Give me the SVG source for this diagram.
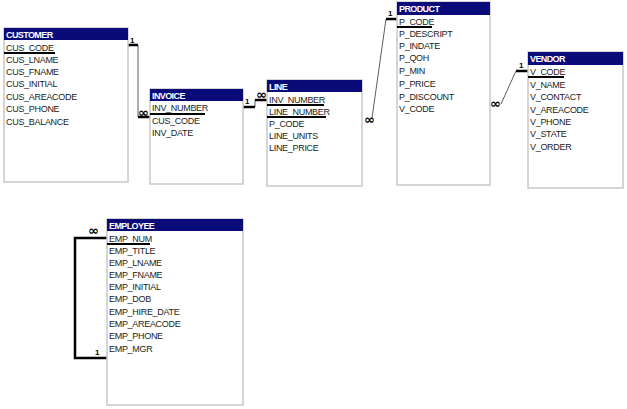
<svg xmlns="http://www.w3.org/2000/svg" width="627" height="409" viewBox="0 0 627 409">
<style>
.box{fill:#fff;stroke:#c8c8c8;stroke-width:1.5}
.hd{fill:#0a0a78}
.ht{font-family:"Liberation Sans Narrow","Liberation Sans",sans-serif;font-size:9px;font-weight:bold;fill:#fff;letter-spacing:-0.6px}
.f{font-family:"Liberation Sans Narrow","Liberation Sans",sans-serif;font-size:9px;fill:#222;letter-spacing:-0.3px}
.k{stroke:#000;stroke-width:2}
.c{fill:none;stroke:#333;stroke-width:0.8}
.t{fill:none;stroke:#000;stroke-width:2.5}
.lb{font-family:"Liberation Sans",sans-serif;font-size:8px;font-weight:bold;fill:#000}
.inf{font-family:"DejaVu Sans",sans-serif;font-size:13px;font-weight:bold;fill:#000}
</style>
<g id="connectors">
<path class="c" d="M138,45 V117"/><path class="t" d="M128,45 H138"/><path class="t" d="M138,117 H150"/>
<text class="lb" x="130" y="43">1</text><text class="inf" x="138" y="117">∞</text>
<path class="c" d="M255,107 V100"/><path class="t" d="M243,107 H255"/><path class="t" d="M255,100 H267"/>
<text class="lb" x="245" y="104">1</text><text class="inf" x="256" y="99">∞</text>
<path class="c" d="M372,118 L386,19"/><path class="t" d="M386,19 H397"/>
<text class="lb" x="388" y="16">1</text><text class="inf" x="364" y="124">∞</text>
<path class="c" d="M501,104 L516,71"/><path class="t" d="M516,71 H528"/>
<text class="lb" x="519" y="68">1</text><text class="inf" x="490" y="108">∞</text>
<path class="t" d="M107,238 H75 V358 H107"/>
<text class="inf" x="88" y="235">∞</text><text class="lb" x="95" y="355">1</text>
</g>
<g id="customer">
<rect class="box" x="4" y="28" width="124" height="154"/><rect class="hd" x="4" y="28" width="124" height="12"/>
<text class="ht" x="6" y="38">CUSTOMER</text>
<text class="f" x="6" y="51">CUS_CODE</text><line class="k" x1="4" y1="53" x2="55" y2="53"/>
<text class="f" x="6" y="63">CUS_LNAME</text><text class="f" x="6" y="75">CUS_FNAME</text>
<text class="f" x="6" y="87">CUS_INITIAL</text><text class="f" x="6" y="100">CUS_AREACODE</text>
<text class="f" x="6" y="112">CUS_PHONE</text><text class="f" x="6" y="125">CUS_BALANCE</text>
</g>
<g id="invoice">
<rect class="box" x="150" y="89" width="93" height="95"/><rect class="hd" x="150" y="89" width="93" height="12"/>
<text class="ht" x="152" y="99">INVOICE</text>
<text class="f" x="152" y="111">INV_NUMBER</text><line class="k" x1="150" y1="114" x2="205" y2="114"/>
<text class="f" x="152" y="124">CUS_CODE</text><text class="f" x="152" y="136">INV_DATE</text>
</g>
<g id="line">
<rect class="box" x="267" y="80" width="95" height="106"/><rect class="hd" x="267" y="80" width="95" height="12"/>
<text class="ht" x="269" y="90">LINE</text>
<text class="f" x="269" y="103">INV_NUMBER</text><line class="k" x1="267" y1="105" x2="324" y2="105"/>
<text class="f" x="269" y="115">LINE_NUMBER</text><line class="k" x1="267" y1="117" x2="326" y2="117"/>
<text class="f" x="269" y="127">P_CODE</text><text class="f" x="269" y="139">LINE_UNITS</text>
<text class="f" x="269" y="151">LINE_PRICE</text>
</g>
<g id="product">
<rect class="box" x="397" y="2" width="93" height="183"/><rect class="hd" x="397" y="2" width="93" height="13"/>
<text class="ht" x="399" y="12">PRODUCT</text>
<text class="f" x="399" y="25">P_CODE</text><line class="k" x1="397" y1="27" x2="432" y2="27"/>
<text class="f" x="399" y="37">P_DESCRIPT</text><text class="f" x="399" y="49">P_INDATE</text>
<text class="f" x="399" y="61">P_QOH</text><text class="f" x="399" y="74">P_MIN</text>
<text class="f" x="399" y="87">P_PRICE</text><text class="f" x="399" y="100">P_DISCOUNT</text>
<text class="f" x="399" y="112">V_CODE</text>
</g>
<g id="vendor">
<rect class="box" x="528" y="52" width="95" height="136"/><rect class="hd" x="528" y="52" width="95" height="13"/>
<text class="ht" x="530" y="62">VENDOR</text>
<text class="f" x="530" y="75">V_CODE</text><line class="k" x1="528" y1="77" x2="564" y2="77"/>
<text class="f" x="530" y="88">V_NAME</text><text class="f" x="530" y="100">V_CONTACT</text>
<text class="f" x="530" y="113">V_AREACODE</text><text class="f" x="530" y="125">V_PHONE</text>
<text class="f" x="530" y="137">V_STATE</text><text class="f" x="530" y="150">V_ORDER</text>
</g>
<g id="employee">
<rect class="box" x="107" y="219" width="136" height="186"/><rect class="hd" x="107" y="219" width="136" height="12"/>
<text class="ht" x="109" y="229">EMPLOYEE</text>
<text class="f" x="109" y="242">EMP_NUM</text><line class="k" x1="107" y1="244" x2="150" y2="244"/>
<text class="f" x="109" y="254">EMP_TITLE</text><text class="f" x="109" y="266">EMP_LNAME</text>
<text class="f" x="109" y="278">EMP_FNAME</text><text class="f" x="109" y="290">EMP_INITIAL</text>
<text class="f" x="109" y="302">EMP_DOB</text><text class="f" x="109" y="315">EMP_HIRE_DATE</text>
<text class="f" x="109" y="327">EMP_AREACODE</text><text class="f" x="109" y="339">EMP_PHONE</text>
<text class="f" x="109" y="352">EMP_MGR</text>
</g>
</svg>
